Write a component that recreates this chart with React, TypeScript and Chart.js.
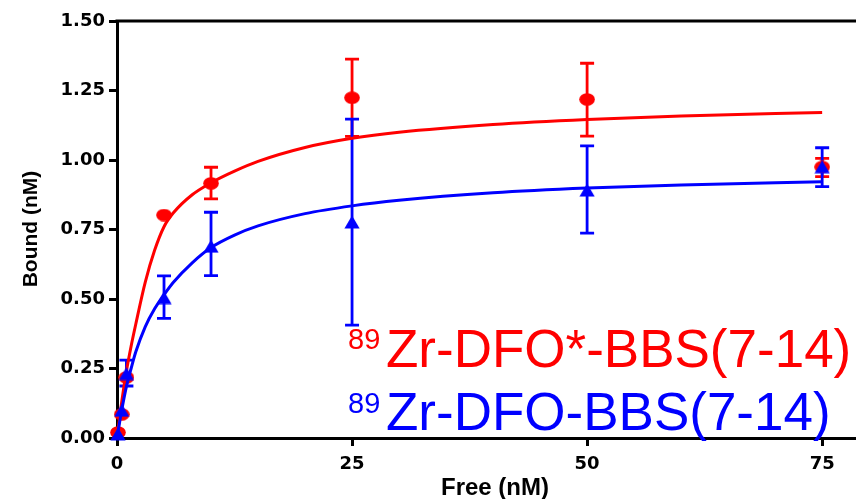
import React, { useEffect, useRef } from 'react';
import { Chart, registerables } from 'chart.js';

Chart.register(...registerables);

// ---- data ----
const concentrations = [0.1, 0.5, 1, 5, 10, 25, 50, 75];

const redBound = [0.02, 0.085, 0.218, 0.802, 0.916, 1.224, 1.218, 0.975];
const redErrLow = [null, null, null, null, 0.86, 1.085, 1.086, 0.94];
const redErrHigh = [null, null, null, null, 0.974, 1.363, 1.348, 1.006];

const blueBound = [0.015, 0.1, 0.232, 0.505, 0.69, 0.777, 0.892, 0.976];
const blueErrLow = [null, null, 0.187, 0.43, 0.584, 0.406, 0.737, 0.904];
const blueErrHigh = [null, null, 0.28, 0.583, 0.812, 1.147, 1.051, 1.044];

const fitX = [0, 0.5, 1, 1.5, 2, 3, 4, 5, 6, 8, 10, 12.5, 15, 20, 25, 30, 40, 50, 60, 75];
const redFit = [0, 0.13, 0.24, 0.33, 0.41, 0.56, 0.675, 0.76, 0.81, 0.875, 0.918, 0.96, 0.995, 1.045, 1.078, 1.1, 1.128, 1.146, 1.158, 1.171];
const blueFit = [0, 0.1, 0.185, 0.25, 0.31, 0.4, 0.465, 0.515, 0.56, 0.63, 0.685, 0.73, 0.763, 0.807, 0.835, 0.855, 0.882, 0.899, 0.91, 0.922];

const xTicks = [0, 25, 50, 75];
const yTicks = [0, 0.25, 0.5, 0.75, 1.0, 1.25, 1.5];

const xTitle = 'Free (nM)';
const yTitle = 'Bound (nM)';
const redLabel = { sup: '89', main: 'Zr-DFO*-BBS(7-14)' };
const blueLabel = { sup: '89', main: 'Zr-DFO-BBS(7-14)' };

const RED = '#ff0000';
const BLUE = '#0000ff';

function makeEllipse(color: string) {
  const c = document.createElement('canvas');
  c.width = 16;
  c.height = 13;
  const g = c.getContext('2d')!;
  g.fillStyle = color;
  g.beginPath();
  g.ellipse(8, 6.5, 7.8, 6.3, 0, 0, Math.PI * 2);
  g.fill();
  return c;
}

function makeTriangle(color: string) {
  const c = document.createElement('canvas');
  c.width = 16;
  c.height = 14;
  const g = c.getContext('2d')!;
  g.fillStyle = color;
  g.beginPath();
  g.moveTo(8, 0.5);
  g.lineTo(15.6, 13.5);
  g.lineTo(0.4, 13.5);
  g.closePath();
  g.fill();
  return c;
}

const errorBarPlugin = {
  id: 'errorBars',
  beforeDatasetsDraw(chart: any) {
    const { ctx, scales } = chart;
    const xs = scales.x;
    const ys = scales.y;
    const groups = [
      { color: RED, lo: redErrLow, hi: redErrHigh },
      { color: BLUE, lo: blueErrLow, hi: blueErrHigh },
    ];
    ctx.save();
    groups.forEach((gr) => {
      ctx.strokeStyle = gr.color;
      ctx.lineWidth = 2.8;
      concentrations.forEach((c, i) => {
        const lo = gr.lo[i];
        const hi = gr.hi[i];
        if (lo == null || hi == null) return;
        const px = xs.getPixelForValue(c);
        const y1 = ys.getPixelForValue(lo);
        const y2 = ys.getPixelForValue(hi);
        ctx.beginPath();
        ctx.moveTo(px, y1);
        ctx.lineTo(px, y2);
        ctx.moveTo(px - 7, y1);
        ctx.lineTo(px + 7, y1);
        ctx.moveTo(px - 7, y2);
        ctx.lineTo(px + 7, y2);
        ctx.stroke();
      });
    });
    ctx.restore();
  },
};

const decorPlugin = {
  id: 'decor',
  afterDraw(chart: any) {
    const { ctx, chartArea } = chart;
    ctx.save();
    // top frame line
    ctx.strokeStyle = '#000';
    ctx.lineWidth = 3;
    ctx.beginPath();
    ctx.moveTo(chartArea.left - 1.5, chartArea.top);
    ctx.lineTo(chartArea.right, chartArea.top);
    ctx.stroke();

    // axis titles
    ctx.fillStyle = '#000';
    ctx.textBaseline = 'middle';
    ctx.textAlign = 'center';
    ctx.font = 'bold 24px "Liberation Sans", Arial, sans-serif';
    ctx.fillText(xTitle, 495, 488);
    ctx.save();
    ctx.translate(31, 229);
    ctx.rotate(-Math.PI / 2);
    ctx.font = 'bold 21px "Liberation Sans", Arial, sans-serif';
    ctx.fillText(yTitle, 0, 0);
    ctx.restore();

    // in-plot labels
    ctx.textAlign = 'left';
    ctx.textBaseline = 'alphabetic';
    const labels = [
      { l: redLabel, color: RED, supY: 349, mainY: 367 },
      { l: blueLabel, color: BLUE, supY: 413, mainY: 430 },
    ];
    labels.forEach((it) => {
      ctx.fillStyle = it.color;
      ctx.font = '29px "Liberation Sans", Arial, sans-serif';
      ctx.fillText(it.l.sup, 348, it.supY);
      ctx.font = '53px "Liberation Sans", Arial, sans-serif';
      ctx.fillText(it.l.main, 386, it.mainY);
    });
    ctx.restore();
  },
};

export default function App() {
  const ref = useRef<HTMLCanvasElement | null>(null);

  useEffect(() => {
    if (!ref.current) return;
    const redMarker = makeEllipse(RED);
    const blueMarker = makeTriangle(BLUE);
    const pts = (ys: number[]) => concentrations.map((x, i) => ({ x, y: ys[i] }));
    const fit = (ys: number[]) => fitX.map((x, i) => ({ x, y: ys[i] }));

    const tickFont = { family: '"DejaVu Sans", sans-serif', weight: 'bold' as const, size: 18 };

    const chart = new Chart(ref.current, {
      type: 'scatter',
      data: {
        datasets: [
          {
            data: pts(blueBound),
            pointStyle: blueMarker as any,
            pointRadius: 8,
            backgroundColor: BLUE,
            borderColor: BLUE,
            showLine: false,
            clip: false as any,
          },
          {
            data: fit(blueFit),
            showLine: true,
            borderColor: BLUE,
            borderWidth: 3,
            pointRadius: 0,
            cubicInterpolationMode: 'monotone',
            clip: false as any,
          },
          {
            data: pts(redBound),
            pointStyle: redMarker as any,
            pointRadius: 8,
            backgroundColor: RED,
            borderColor: RED,
            showLine: false,
            clip: false as any,
          },
          {
            data: fit(redFit),
            showLine: true,
            borderColor: RED,
            borderWidth: 3,
            pointRadius: 0,
            cubicInterpolationMode: 'monotone',
            clip: false as any,
          },
        ] as any,
      },
      options: {
        responsive: false,
        animation: false,
        devicePixelRatio: 1,
        layout: { autoPadding: false, padding: { top: 21, left: 0, right: 0, bottom: 0 } },
        plugins: {
          legend: { display: false },
          tooltip: { enabled: false },
        },
        scales: {
          x: {
            type: 'linear',
            min: 0,
            max: 78.6,
            border: { display: true, color: '#000', width: 3 },
            grid: { drawOnChartArea: false, drawTicks: true, tickLength: 8, lineWidth: 3, color: '#000' },
            ticks: { color: '#000', font: tickFont, padding: 8, maxRotation: 0, autoSkip: false },
            afterBuildTicks: (s: any) => {
              s.ticks = xTicks.map((v) => ({ value: v }));
            },
            afterFit: (s: any) => {
              s.height = 61;
              s.paddingLeft = 0;
              s.paddingRight = 0;
              s.paddingTop = 0;
              s.paddingBottom = 0;
            },
          },
          y: {
            type: 'linear',
            min: 0,
            max: 1.5,
            border: { display: true, color: '#000', width: 3 },
            grid: { drawOnChartArea: false, drawTicks: true, tickLength: 8, lineWidth: 3, color: '#000' },
            ticks: {
              color: '#000',
              font: tickFont,
              padding: 4,
              autoSkip: false,
              callback: (v: any) => Number(v).toFixed(2),
            },
            afterBuildTicks: (s: any) => {
              s.ticks = yTicks.map((v) => ({ value: v }));
            },
            afterFit: (s: any) => {
              s.width = 117;
              s.paddingLeft = 0;
              s.paddingRight = 0;
              s.paddingTop = 0;
              s.paddingBottom = 0;
            },
          },
        },
      } as any,
      plugins: [errorBarPlugin, decorPlugin],
    });
    return () => chart.destroy();
  }, []);

  return (
    <div style={{ position: 'absolute', left: 0, top: 0, width: 856, height: 499, background: '#fff' }}>
      <canvas ref={ref} width={856} height={499} style={{ display: 'block' }} />
    </div>
  );
}
